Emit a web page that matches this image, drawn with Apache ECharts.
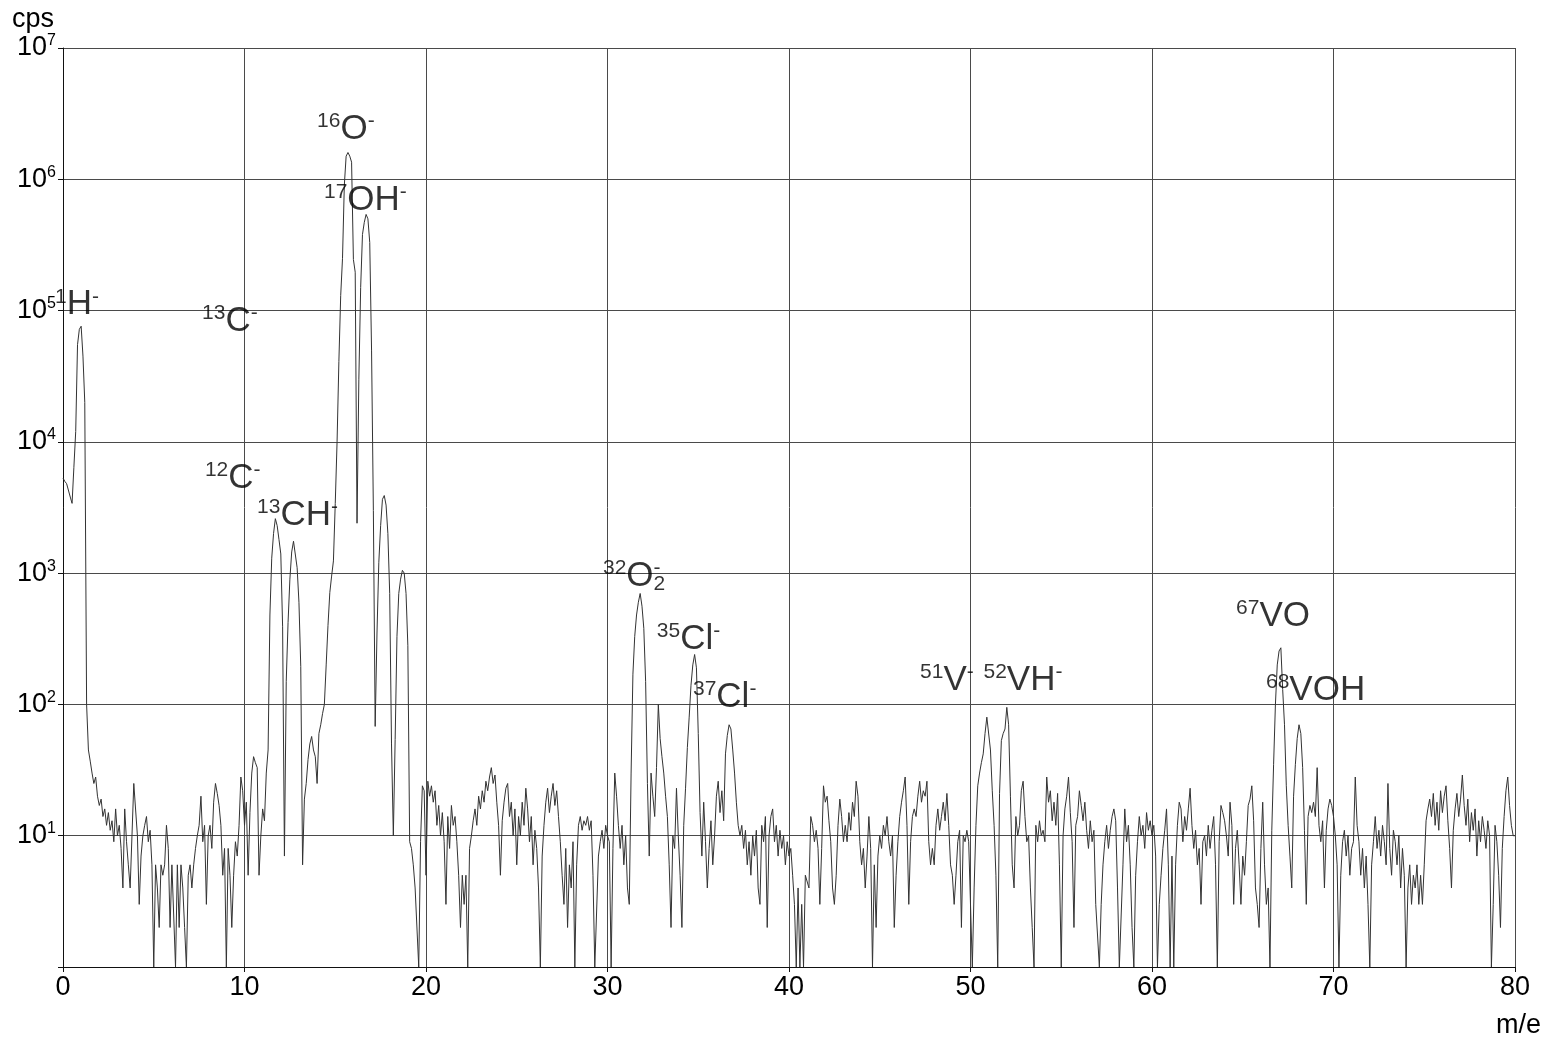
<!DOCTYPE html>
<html>
<head>
<meta charset="utf-8">
<title>Negative ion mass spectrum</title>
<script src="https://cdn.jsdelivr.net/npm/echarts@6/dist/echarts.min.js"></script>
<style>
  html, body { margin: 0; padding: 0; background: #ffffff; }
  #chart { width: 1551px; height: 1039px; }
</style>
</head>
<body>
<div id="chart"></div>
<script>
// Count rate (cps) sampled every 0.1 m/e, one row per unit of m/e.
const MZ_STEP = 0.1;

// m/e 0.0 - 19.9
const cpsA = [
  5300, 5000, 4800, 4700, 3800, 3400, 6400, 12000, 55000, 72000,
  76000, 45000, 20000, 100, 45, 37, 30, 25, 28, 20,
  17, 19, 14, 16, 12, 15, 11, 13, 9, 16,
  10, 12, 8, 4, 16, 9, 6, 4, 10, 25,
  25, 10, 3, 7, 10, 12, 14, 9, 11, 6,
  1, 6, 4, 2, 6, 5, 6, 12, 8, 2,
  6, 6, 1, 6, 2, 6, 4, 2, 1, 5,
  6, 4, 6, 8, 10, 12, 20, 9, 12, 3,
  10, 12, 8, 18, 25, 21, 17, 12, 5, 8,
  1, 8, 5, 2, 5, 9, 7, 12, 28, 22,
  12, 18, 5, 15, 30, 40, 36, 33, 5, 10,
  16, 13, 30, 45, 480, 1300, 2000, 2600, 2300, 1800,
  1400, 390, 7, 150, 420, 900, 1450, 1750, 1700, 1100,
  600, 195, 6, 19, 25, 38, 50, 57, 45, 40,
  25, 60, 70, 85, 100, 200, 400, 710, 950, 1240,
  3400, 10000, 41000, 130000, 250000, 900000, 1500000, 1600000, 1500000, 1350000,
  245000, 196000, 2400, 30000, 150000, 380000, 470000, 540000, 500000, 330000,
  50000, 3000, 68, 350, 1200, 2300, 3650, 3900, 3300, 2000,
  700, 50, 10, 54, 330, 700, 900, 1050, 1000, 700,
  280, 9, 8, 6, 4, 4, 1, 9, 24, 22
];

// m/e 20.0 - 39.9
const cpsB = [
  5, 26, 20, 24, 18, 22, 12, 17, 10, 15,
  9, 3, 14, 8, 17, 12, 14, 9, 5, 2,
  5, 3, 5, 1, 8, 10, 13, 16, 12, 20,
  16, 22, 18, 26, 22, 28, 33, 25, 29, 18,
  12, 5, 13, 18, 23, 25, 14, 18, 10, 16,
  6, 14, 10, 18, 12, 23, 16, 9, 14, 6,
  11, 8, 4, 1, 7, 12, 18, 23, 15, 20,
  25, 17, 22, 14, 9, 5, 3, 8, 2, 6,
  4, 9, 1, 6, 12, 14, 11, 13, 12, 14,
  11, 13, 5, 1, 1, 7, 9, 11, 8, 12,
  10, 9, 1, 8, 30, 20, 12, 8, 12, 6,
  10, 4, 3, 30, 170, 330, 480, 600, 700, 560,
  380, 150, 25, 7, 30, 20, 14, 33, 100, 55,
  40, 30, 20, 14, 6, 2, 10, 8, 23, 10,
  5, 2, 12, 23, 47, 80, 140, 200, 240, 190,
  60, 15, 7, 18, 9, 4, 8, 13, 6, 10,
  20, 26, 15, 22, 13, 42, 58, 70, 65, 45,
  30, 18, 12, 10, 12, 8, 11, 6, 9, 5,
  10, 7, 11, 4, 3, 12, 9, 14, 2, 10,
  14, 16, 9, 12, 7, 11, 8, 10, 6, 9
];

// m/e 40.0 - 59.9
const cpsC = [
  7, 8, 5, 3, 1, 4, 1, 3, 1, 5,
  5, 4, 14, 12, 9, 11, 8, 3, 8, 24,
  18, 20, 13, 9, 4, 3, 5, 12, 19, 14,
  9, 12, 9, 15, 11, 18, 14, 26, 20, 9,
  6, 8, 4, 7, 14, 8, 1, 6, 2, 7,
  10, 8, 12, 10, 14, 9, 7, 10, 2, 5,
  9, 14, 18, 22, 28, 12, 3, 9, 14, 16,
  14, 20, 26, 18, 22, 20, 26, 9, 6, 8,
  6, 12, 16, 11, 14, 18, 13, 21, 12, 6,
  5, 3, 5, 9, 11, 2, 10, 9, 11, 9,
  9, 1, 4, 12, 24, 30, 36, 42, 60, 80,
  82, 45, 22, 12, 5, 1, 21, 53, 60, 65,
  95, 70, 20, 6, 4, 14, 10, 12, 22, 26,
  14, 9, 10, 4, 2, 1, 12, 9, 13, 10,
  11, 9, 28, 18, 22, 13, 18, 12, 21, 6,
  1, 10, 16, 20, 28, 15, 9, 2, 12, 14,
  22, 17, 13, 18, 11, 8, 13, 9, 11, 3,
  3, 1, 3, 6, 9, 12, 8, 11, 14, 16,
  13, 4, 1, 1, 6, 16, 9, 12, 6, 2,
  1, 5, 9, 14, 10, 12, 8, 15, 11, 13
];

// m/e 60.0 - 80.0
const cpsD = [
  10, 12, 7, 1, 3, 5, 8, 11, 16, 6,
  1, 7, 1, 6, 12, 18, 16, 9, 14, 11,
  16, 23, 12, 8, 11, 6, 8, 3, 9, 10,
  7, 12, 8, 11, 14, 6, 1, 9, 17, 15,
  13, 10, 7, 18, 12, 3, 8, 11, 6, 3,
  7, 5, 9, 17, 19, 24, 13, 4, 3, 2,
  8, 18, 6, 3, 4, 1, 11, 35, 100, 200,
  255, 270, 130, 70, 24, 12, 7, 4, 20, 35,
  55, 70, 60, 33, 11, 3, 14, 17, 15, 18,
  14, 33, 12, 9, 13, 4, 11, 16, 19, 17,
  14, 10, 6, 1, 5, 9, 11, 7, 10, 5,
  8, 9, 28, 12, 9, 5, 8, 4, 7, 3,
  1, 6, 9, 14, 8, 11, 7, 12, 9, 6,
  25, 8, 5, 11, 9, 6, 10, 4, 8, 5,
  1, 4, 6, 3, 5, 4, 6, 3, 5, 3,
  6, 13, 16, 19, 14, 21, 12, 18, 11, 22,
  15, 20, 24, 13, 8, 4, 11, 16, 21, 14,
  19, 29, 17, 12, 19, 9, 15, 11, 16, 7,
  13, 9, 14, 11, 8, 13, 10, 1, 3, 12,
  9, 5, 2, 8, 14, 22, 28, 17, 12, 10,
  10
];

// Axis ranges
const xTicks = [0, 10, 20, 30, 40, 50, 60, 70, 80];
const yDecades = [1, 2, 3, 4, 5, 6, 7];

// Peak assignments (rich text) and where each label sits, in [m/e, cps]
const peakNames = [
  '{s|1}{b|H}{s|-}',
  '{s|13}{b|C}{s|-}',
  '{s|12}{b|C}{s|-}',
  '{s|13}{b|CH}{s|-}',
  '{s|16}{b|O}{s|-}',
  '{s|17}{b|OH}{s|-}',
  '{s|32}{b|O}{z|-}{d|2}',
  '{s|35}{b|Cl}{s|-}',
  '{s|37}{b|Cl}{s|-}',
  '{s|51}{b|V}{s|-}{b| }{s|52}{b|VH}{s|-}',
  '{s|67}{b|VO}',
  '{s|68}{b|VOH}'
];
const peakLabelAt = [
  [-0.44, 80000],
  [7.66, 60000],
  [7.82, 3800],
  [10.69, 1980],
  [14.0, 1750000],
  [14.38, 500000],
  [29.75, 680],
  [32.72, 228],
  [34.71, 82],
  [47.22, 110],
  [64.63, 340],
  [66.28, 93]
];

const FONT = '"Liberation Sans", Arial, Helvetica, sans-serif';
const INK = '#000000';

const cps = [].concat(cpsA, cpsB, cpsC, cpsD);
const spectrum = cps.map((v, i) => [Math.round(i) * MZ_STEP, v]);
const labelPoints = peakNames.map((name, i) => ({ name: name, value: peakLabelAt[i] }));

const chart = echarts.init(document.getElementById('chart'), null, { renderer: 'canvas' });

chart.setOption({
  animation: false,
  backgroundColor: '#ffffff',
  grid: { left: 63, right: 36, top: 48, bottom: 72, containLabel: false },
  xAxis: {
    type: 'value',
    min: xTicks[0],
    max: xTicks[xTicks.length - 1],
    interval: 10,
    axisLine: { show: true, lineStyle: { color: '#111', width: 1 } },
    axisTick: { show: true, inside: false, length: 5, lineStyle: { color: '#111' } },
    splitLine: { show: true, lineStyle: { color: '#4a4a4a', width: 1 } },
    axisLabel: {
      margin: 7,
      color: INK,
      fontFamily: FONT,
      fontSize: 27,
      formatter: v => String(v)
    }
  },
  yAxis: {
    type: 'log',
    logBase: 10,
    min: 1,
    max: Math.pow(10, yDecades[yDecades.length - 1]),
    splitNumber: 7,
    axisLine: { show: true, lineStyle: { color: '#111', width: 1 } },
    axisTick: { show: true, inside: false, length: 5, lineStyle: { color: '#111' } },
    splitLine: { show: true, lineStyle: { color: '#4a4a4a', width: 1 } },
    axisLabel: {
      margin: 7,
      color: INK,
      fontFamily: FONT,
      formatter: v => {
        const e = Math.round(Math.log10(v));
        return yDecades.indexOf(e) >= 0 ? '{b|10}{s|' + e + '}' : '';
      },
      rich: {
        b: { fontFamily: FONT, fontSize: 27, lineHeight: 30, color: INK },
        s: { fontFamily: FONT, fontSize: 16, lineHeight: 16, verticalAlign: 'top', color: INK }
      }
    }
  },
  graphic: [
    { type: 'text', left: 12, top: 6, style: { text: 'cps', font: '27px ' + FONT, fill: INK } },
    { type: 'text', right: 10, top: 1012, style: { text: 'm/e', font: '27px ' + FONT, fill: INK } }
  ],
  series: [
    {
      name: 'spectrum',
      type: 'line',
      data: spectrum,
      showSymbol: false,
      symbol: 'none',
      lineStyle: { color: '#333333', width: 1 },
      silent: true,
      z: 3
    },
    {
      name: 'peaks',
      type: 'scatter',
      data: labelPoints,
      symbolSize: 0,
      clip: false,
      silent: true,
      z: 5,
      label: {
        show: true,
        position: 'inside',
        align: 'left',
        verticalAlign: 'bottom',
        formatter: p => p.name,
        rich: {
          b: { fontFamily: FONT, fontSize: 35, lineHeight: 37, color: INK },
          s: { fontFamily: FONT, fontSize: 21, lineHeight: 21, verticalAlign: 'top', color: INK },
          d: { fontFamily: FONT, fontSize: 21, lineHeight: 21, verticalAlign: 'bottom', color: INK },
          z: { fontFamily: FONT, fontSize: 21, lineHeight: 21, verticalAlign: 'top', color: INK, width: 0 }
        }
      }
    }
  ]
});
</script>
</body>
</html>
